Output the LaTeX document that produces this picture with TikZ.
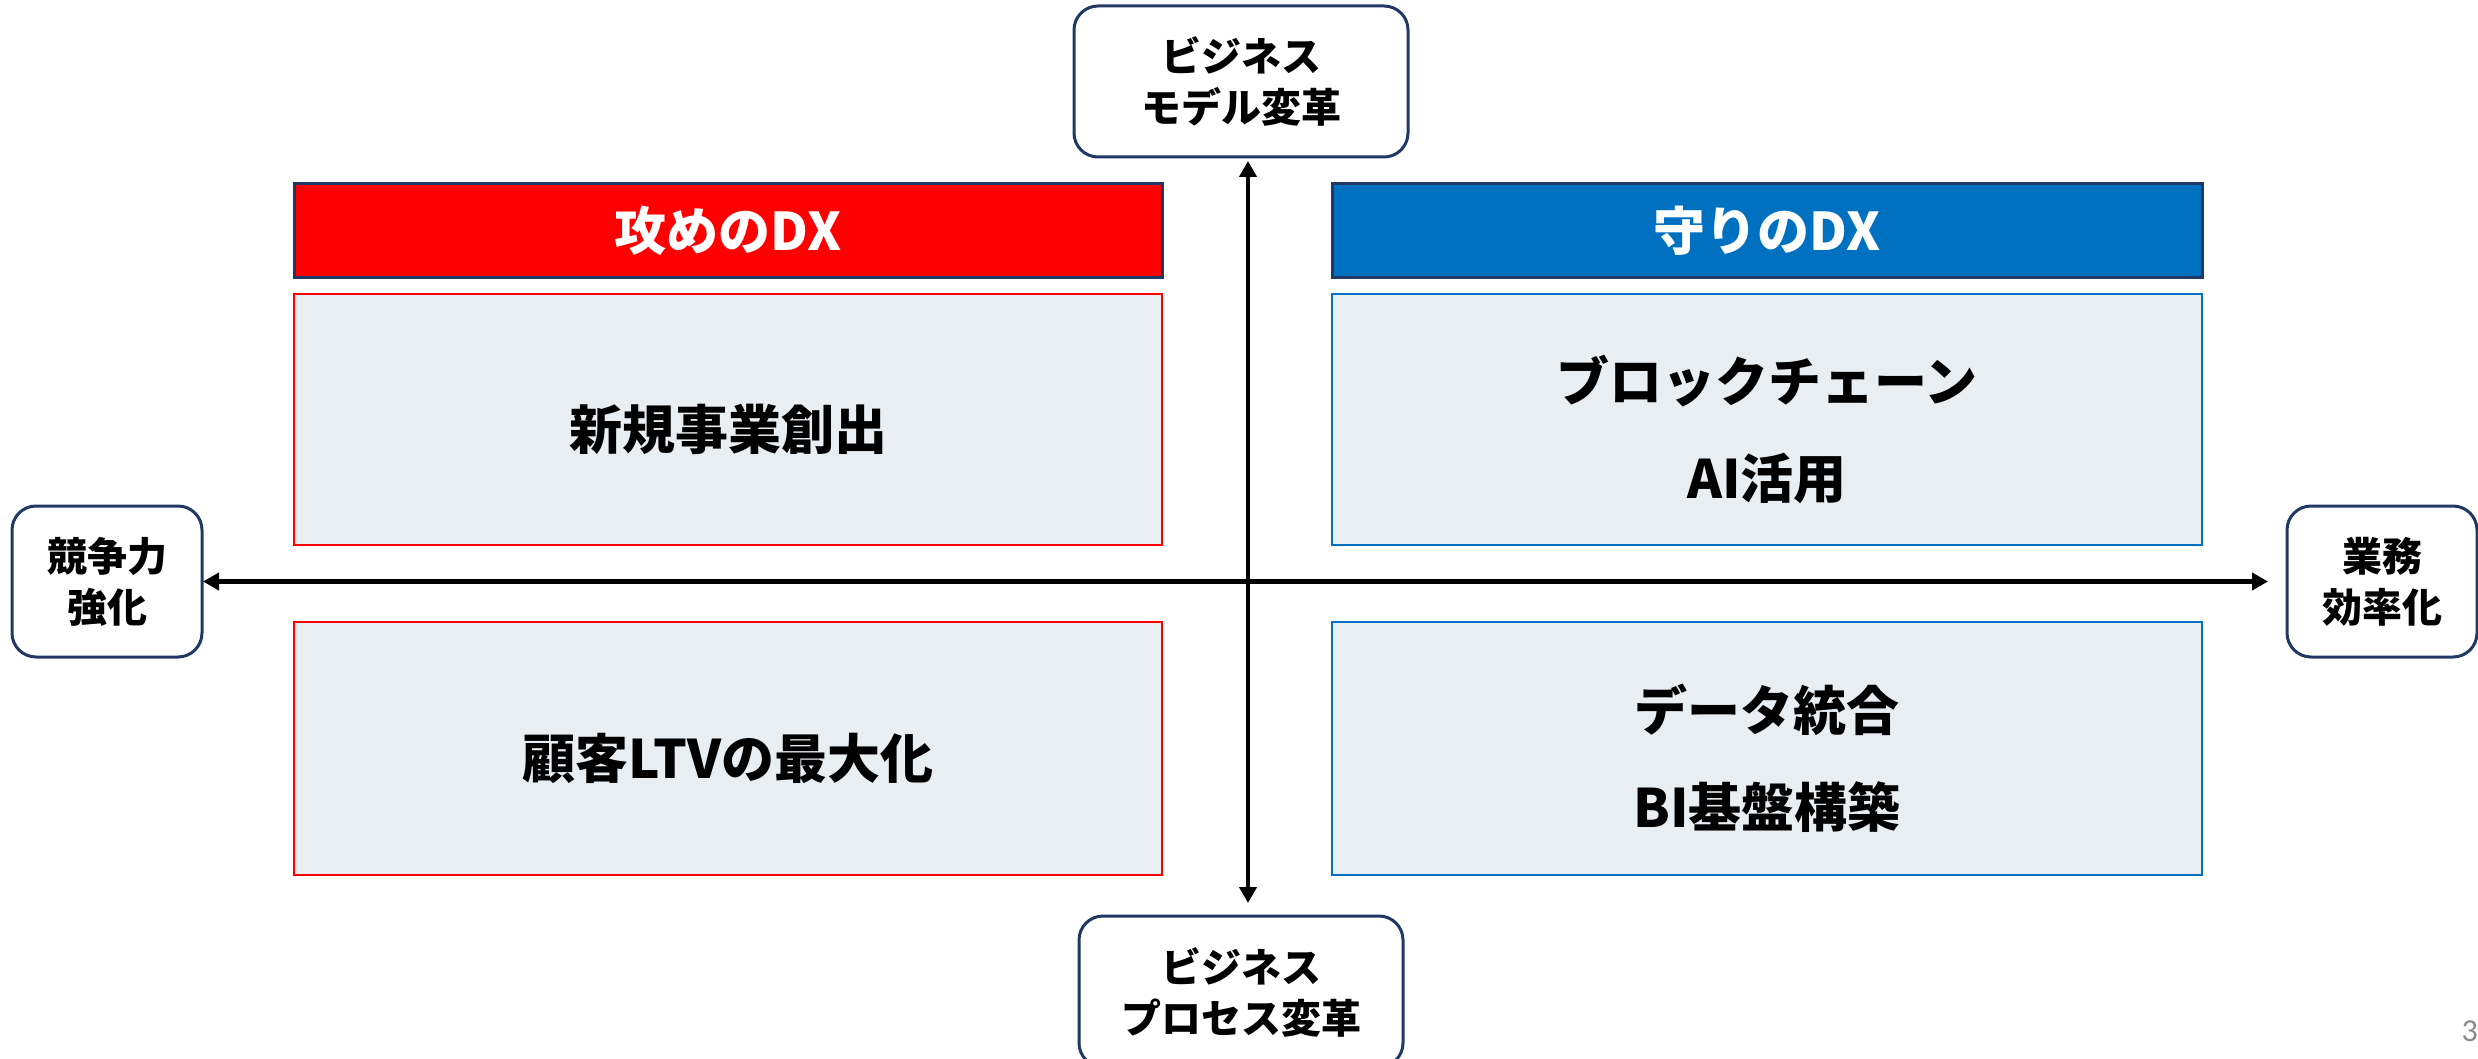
\documentclass[tikz,border=0pt]{standalone}
\usepackage{fontspec}
\setmainfont{Noto Sans CJK JP}
\newfontfamily\pgnum{Carlito}
\usetikzlibrary{arrows.meta}
\definecolor{hdrred}{HTML}{FF0000}
\definecolor{hdrblue}{HTML}{0070C0}
\definecolor{navy}{HTML}{1F3864}
\definecolor{qfill}{HTML}{E9EEF3}
\definecolor{pggray}{HTML}{8A8A8A}
\tikzset{
  hdrbox/.style={draw=navy, line width=3pt, inner sep=0pt, outer sep=0pt, minimum height=94pt},
  quadbox/.style={fill=qfill, line width=2.5pt, inner sep=0pt, outer sep=0pt},
  axisbox/.style={draw=navy, fill=white, line width=3pt, rounded corners=24pt, inner sep=0pt, outer sep=0pt, minimum height=151pt},
  hdrtext/.style={text=white, font=\fontsize{52}{62}\selectfont\bfseries, inner sep=0pt},
  quadtext/.style={text=black, font=\fontsize{53}{97}\selectfont\bfseries, align=center, inner sep=0pt},
  axistext/.style={text=black, font=\fontsize{40}{51}\selectfont\bfseries, align=center, inner sep=0pt},
  axisarrow/.style={draw=black, line width=4.5pt, {Triangle[length=16pt,width=17pt]}-{Triangle[length=16pt,width=17pt]}}
}
\begin{document}
\begin{tikzpicture}[x=1pt,y=-1pt]
\useasboundingbox (0,0) rectangle (2478,1059);
% headers
\node[hdrbox, fill=hdrred, minimum width=868pt] (hdrL) at (728,231) {};
\node[hdrtext] (hdrLt) at (hdrL.center) {攻めのDX};
\node[hdrbox, fill=hdrblue, minimum width=870pt] (hdrR) at (1767,231) {};
\node[hdrtext] (hdrRt) at (hdrR.center) {守りのDX};
% quadrants
\node[quadbox, draw=hdrred, minimum width=868pt, minimum height=251pt] (qTL) at (728,419.5) {};
\node[quadbox, draw=hdrred, minimum width=868pt, minimum height=253pt] (qBL) at (728,748.5) {};
\node[quadbox, draw=hdrblue, minimum width=870pt, minimum height=251pt] (qTR) at (1767,419.5) {};
\node[quadbox, draw=hdrblue, minimum width=870pt, minimum height=253pt] (qBR) at (1767,748.5) {};
\node[quadtext] (tTL) at ([yshift=-10pt]qTL.center) {新規事業創出};
\node[quadtext] (tBL) at ([yshift=-10pt]qBL.center) {顧客LTVの最大化};
\node[quadtext] (tTR) at ([yshift=-10pt]qTR.center) {ブロックチェーン\\AI活用};
\node[quadtext] (tBR) at ([yshift=-10pt]qBR.center) {データ統合\\BI基盤構築};
% axis boxes
\node[axisbox, minimum width=334pt] (top) at (1241,81.5) {};
\node[axistext] (topt) at (top.center) {ビジネス\\モデル変革};
\node[axisbox, minimum width=324pt] (bot) at (1241,991.5) {};
\node[axistext] (bott) at ([yshift=-1pt]bot.center) {ビジネス\\プロセス変革};
\node[axisbox, minimum width=190pt] (left) at (107,581.5) {};
\node[axistext] (leftt) at (left.center) {競争力\\強化};
\node[axisbox, minimum width=190pt] (right) at (2382,581.5) {};
\node[axistext] (rightt) at (right.center) {業務\\効率化};
% axes
\coordinate (cx) at (1248,581);
\draw[axisarrow, shorten <=4pt, shorten >=13pt] (top.south -| cx) -- (bot.north -| cx);
\draw[axisarrow, shorten <=1pt, shorten >=19pt] (left.east) -- (right.west);
% page number
\node[anchor=base east, inner sep=0pt, text=pggray, font=\pgnum\fontsize{32}{38}\selectfont] (pg) at (2478,1041) {3};
\end{tikzpicture}
\end{document}
